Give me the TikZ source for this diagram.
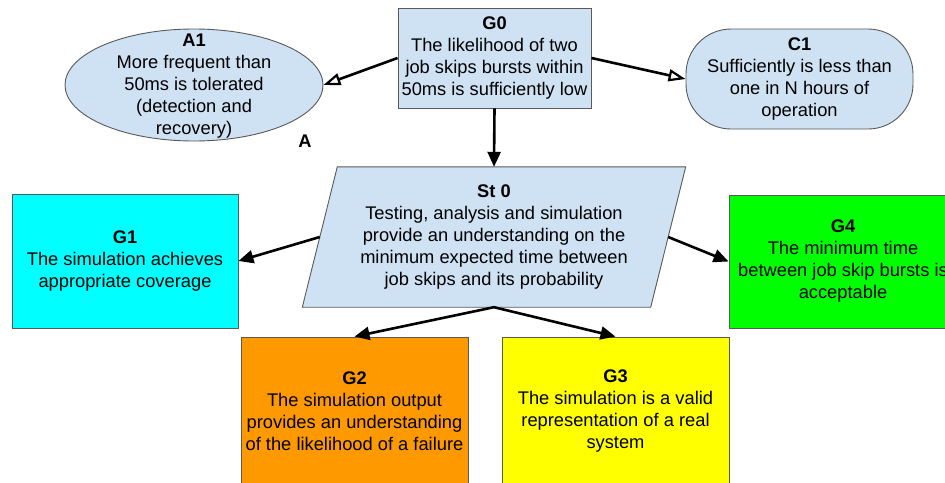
\documentclass[tikz,border=0pt]{standalone}
\usepackage{fontspec}
\setmainfont{Liberation Sans}
\usetikzlibrary{arrows.meta,shapes.geometric,backgrounds,calc}
\definecolor{lblue}{RGB}{207,226,243}
\definecolor{bordc}{RGB}{89,89,89}
\definecolor{gcyan}{RGB}{0,255,255}
\definecolor{ggreen}{RGB}{0,255,0}
\definecolor{gorange}{RGB}{255,153,0}
\definecolor{gyellow}{RGB}{255,255,0}
\begin{document}
\begin{tikzpicture}[x=1pt,y=-1pt,
  every node/.style={font=\fontsize{18.3}{22}\selectfont, align=center, inner sep=0pt, text=black},
  shapeline/.style={draw=bordc, line width=0.9pt},
  goalbox/.style={shapeline, rectangle},
  conn/.style={line width=2.6pt, -{Triangle[length=15pt,width=13pt]}},
  ctx/.style={line width=2.6pt, -{Triangle[open,length=17pt,width=12pt,line width=2.2pt]}}]
\useasboundingbox (0,0) rectangle (945,482);
\clip (0,0) rectangle (945,482);

\node[goalbox, fill=lblue, minimum width=193pt, minimum height=100pt] (g0) at (494.5,58)
  {\textbf{G0}\\The likelihood of two\\job skips bursts within\\50ms is sufficiently low};

\node[shapeline, fill=lblue, ellipse, minimum width=258pt, minimum height=112pt] (a1) at (194,85) {};
\node (a1t) at (194,86) {\textbf{A1}\\More frequent than\\50ms is tolerated\\(detection and\\recovery)};
\node[font=\fontsize{18.3}{22}\selectfont\bfseries] (alab) at (305,141) {A};

\node[shapeline, fill=lblue, rounded corners=45pt, minimum width=227pt, minimum height=100pt] (c1) at (799.5,79)
  {\textbf{C1}\\Sufficiently is less than\\one in N hours of\\operation};

\node[minimum width=348pt, minimum height=140pt] (st0) at (494,237)
  {\textbf{St 0}\\Testing, analysis and simulation\\provide an understanding on the\\minimum expected time between\\job skips and its probability};
\begin{scope}[on background layer]
\fill[white] (0,0) rectangle (945,482);
\draw[shapeline, fill=lblue] ($(st0.south west)+(-17.5,0)$) -- ($(st0.south east)+(-17.5,0)$)
  -- ($(st0.north east)+(17.5,0)$) -- ($(st0.north west)+(17.5,0)$) -- cycle;
\end{scope}

\node[goalbox, fill=gcyan, minimum width=226pt, minimum height=134pt] (g1) at (125,261)
  {\textbf{G1}\\The simulation achieves\\appropriate coverage};
\node[goalbox, fill=ggreen, minimum width=228pt, minimum height=133pt] (g4) at (843,261.5)
  {\textbf{G4}\\The minimum time\\between job skip bursts is\\acceptable};
\node[goalbox, fill=gorange, minimum width=227pt, minimum height=149pt] (g2) at (354.5,411.5)
  {\textbf{G2}\\The simulation output\\provides an understanding\\of the likelihood of a failure};
\node[goalbox, fill=gyellow, minimum width=227pt, minimum height=149pt] (g3) at (615.5,411.5)
  {\textbf{G3}\\The simulation is a valid\\representation of a real\\system};

\draw[ctx] (g0.west) -- (a1.east);
\draw[ctx] (g0.east) -- (c1.west);
\draw[conn] (g0.south) -- (st0.north);
\draw[conn] (st0.west) -- (g1.east);
\draw[conn] (st0.east) -- (g4.west);
\draw[conn] (st0.south) -- (g2.north);
\draw[conn] (st0.south) -- (g3.north);
\end{tikzpicture}
\end{document}
